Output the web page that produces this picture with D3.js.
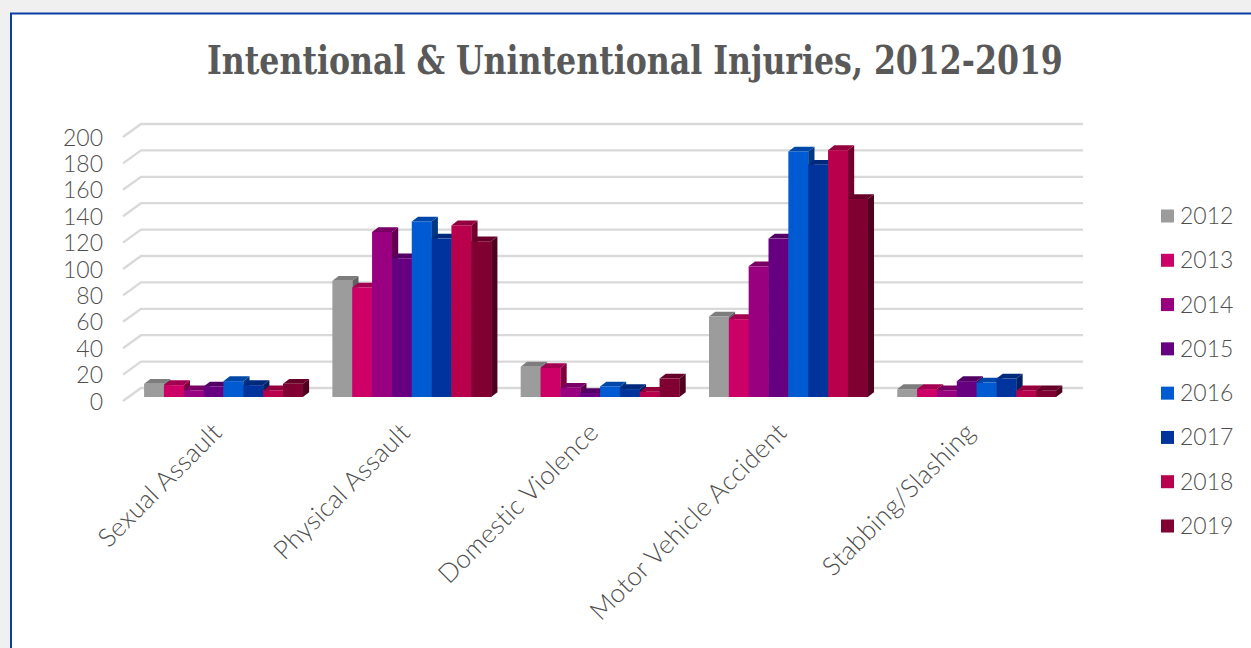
<!DOCTYPE html>
<html><head><meta charset="utf-8">
<style>html,body{margin:0;padding:0;background:#f0f0f0;overflow:hidden}svg{display:block}</style>
<script src="https://cdn.jsdelivr.net/npm/d3@7"></script></head><body>
<svg id="c" width="1251" height="648"></svg>
<script>
const titleText = "Intentional & Unintentional Injuries, 2012-2019";
const categories = ["Sexual Assault","Physical Assault","Domestic Violence","Motor Vehicle Accident","Stabbing/Slashing"];
const years = ["2012","2013","2014","2015","2016","2017","2018","2019"];
const yTicks = [0,20,40,60,80,100,120,140,160,180,200];
const colors = ["#9c9c9c","#cc0066","#990080","#660080","#005ad2","#00339b","#b8004c","#800032"];
const v2012 = [10,88,23,61,6];
const v2013 = [9,83,22,59,6];
const v2014 = [5,125,7,99,5];
const v2015 = [8,105,3,120,12];
const v2016 = [12,133,8,186,11];
const v2017 = [9,120,6,176,14];
const v2018 = [5,130,4,187,5];
const v2019 = [10,118,14,150,5];
const series = [v2012,v2013,v2014,v2015,v2016,v2017,v2018,v2019];

const svg = d3.select("#c");
const sans = "Lato, 'Open Sans', sans-serif", grey = "#4f4f4f";
svg.append("rect").attr("x",11).attr("y",13.5).attr("width",1300).attr("height",700)
  .attr("fill","#fff").attr("stroke","#0a3ea6").attr("stroke-width",2);

const title = svg.append("text").text(titleText)
  .attr("font-family","'DejaVu Serif',serif").attr("font-size",39).attr("font-weight",700)
  .attr("fill","#595959");
title.attr("transform",`translate(207,74) scale(${856/title.node().getComputedTextLength()},1)`);

const y = d3.scaleLinear().domain([0,200]).range([401,137]);      // front plane of the floor
const barBase = 397, barScale = (y(0)-y(200))/200;
const backDx = 18, backDy = -13, xFront = 123, xBackEnd = 1083;

// gridlines: back wall and left-side slant
const grid = svg.append("g").attr("fill","none").attr("stroke","#d9d9d9").attr("stroke-width",2.3);
yTicks.forEach(t=>{
  grid.append("path").attr("d",d3.line()([[xFront,y(t)],[xFront+backDx,y(t)+backDy],[xBackEnd,y(t)+backDy]]));
});

// y axis
const yAxis = svg.append("g").attr("transform","translate(103,0)")
  .call(d3.axisLeft(y).tickValues(yTicks).tickSize(0).tickPadding(0));
yAxis.select(".domain").remove();
yAxis.selectAll("text").attr("font-family",sans).attr("font-weight",300).attr("font-size",23).attr("fill",grey).attr("dy","0.35em");

// bars
const x0 = d3.scaleBand().domain(categories).range([129.3,1070.8]).paddingInner(0.157).paddingOuter(0.0785);
const x1 = d3.scaleBand().domain(years).range([0,x0.bandwidth()]);
const dx = 6.3, dy = -4.8;
const dark = (c,k)=>{const r=d3.rgb(c);return d3.rgb(r.r*k,r.g*k,r.b*k).formatHex();};
categories.forEach((cat,ci)=>{
  const g = svg.append("g");
  years.forEach((yr,si)=>{
    const left = x0(cat)+x1(yr), w = x1.bandwidth(), h = series[si][ci]*barScale, top = barBase-h, c = colors[si];
    g.append("path").attr("fill",dark(c,0.62))
      .attr("d",d3.line()([[left+w,top],[left+w+dx,top+dy],[left+w+dx,barBase+dy],[left+w,barBase]])+"Z");
    g.append("path").attr("fill",dark(c,0.8))
      .attr("d",d3.line()([[left,top],[left+dx,top+dy],[left+w+dx,top+dy],[left+w,top]])+"Z");
    g.append("rect").attr("x",left).attr("y",top).attr("width",w+0.3).attr("height",h).attr("fill",c);
  });
  const cx = x0(cat)+x0.bandwidth()/2;
  svg.append("text").text(cat).attr("text-anchor","end")
    .attr("transform",`translate(${cx},${434}) rotate(-45)`)
    .attr("font-family",sans).attr("font-weight",300).attr("font-size",26).attr("letter-spacing",0.25).attr("fill",grey);
});

// legend
const ly = d3.scalePoint().domain(years).range([216,526]);
years.forEach((yr,i)=>{
  svg.append("rect").attr("x",1161).attr("y",ly(yr)-6.5).attr("width",13).attr("height",13).attr("fill",colors[i]);
  svg.append("text").text(yr).attr("x",1180).attr("y",ly(yr)).attr("dy","0.35em")
    .attr("font-family",sans).attr("font-weight",300).attr("font-size",23).attr("fill",grey);
});
</script></body></html>
